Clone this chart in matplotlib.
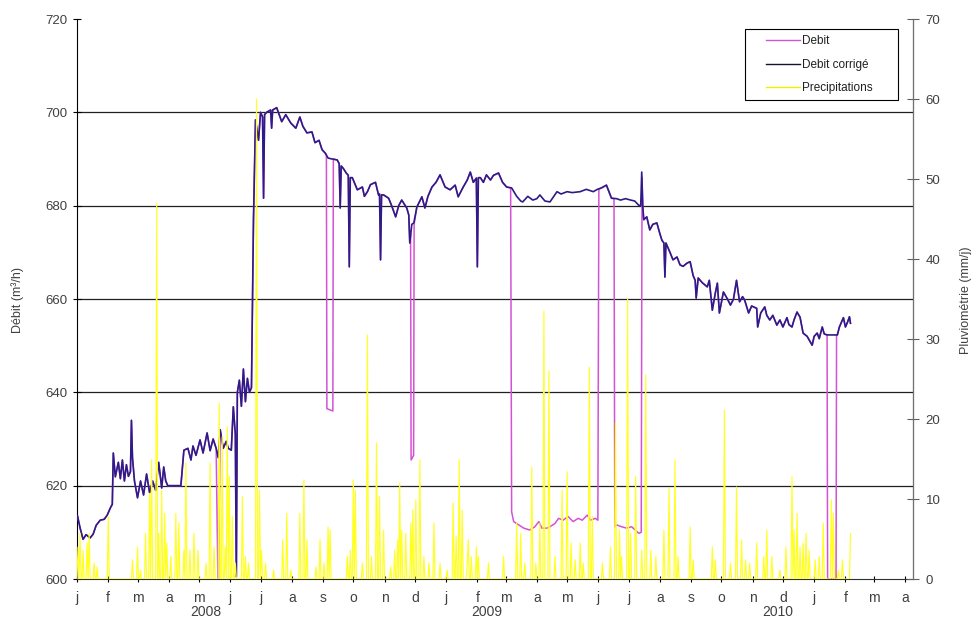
import numpy as np
import matplotlib
matplotlib.use('Agg')
import matplotlib.pyplot as plt
import matplotlib.dates as mdates
from matplotlib.ticker import FuncFormatter, MultipleLocator
from matplotlib.lines import Line2D
from matplotlib.legend_handler import HandlerLine2D
import datetime as dt

plt.rcParams['font.family'] = ['Liberation Sans', 'DejaVu Sans']

# ---------------- data (day offsets from 2008-01-01) ----------------
corr_day = [0.5, 3, 6, 9, 13, 16, 19, 23, 27, 30, 33, 35, 36, 38, 41, 43, 45, 47, 49, 51,
            53, 54, 55, 57, 60, 63, 66, 69, 72, 75, 78, 81, 84, 86, 88, 90, 103, 106, 110, 113,
            115, 118, 122, 125, 129, 132, 135, 138, 140, 142, 145, 148, 150, 153, 155, 157, 158, 159, 161, 163,
            165, 167, 169, 171, 173, 175, 177, 180, 182, 184, 185, 186, 188, 192, 193, 194, 198, 203, 207, 212,
            217, 221, 224, 228, 233, 236, 240, 243, 246, 249, 253, 258, 260, 261, 262, 264, 267, 269, 270, 271,
            273, 278, 283, 285, 288, 291, 296, 299, 300, 301, 302, 304, 309, 312, 316, 319, 322, 327, 329, 330,
            332, 334, 337, 342, 345, 348, 352, 356, 360, 365, 370, 375, 378, 383, 387, 390, 393, 396, 397, 398,
            400, 403, 406, 410, 413, 418, 422, 426, 431, 436, 440, 442, 447, 452, 456, 459, 464, 469, 476, 480,
            486, 491, 499, 505, 512, 516, 520, 525, 530, 535, 539, 544, 549, 553, 557, 559, 560, 561, 562, 565,
            568, 571, 575, 578, 580, 582, 583, 584, 588, 591, 595, 598, 601, 605, 608, 611, 613, 614, 616, 620,
            625, 627, 630, 633, 635, 637, 641, 645, 648, 651, 654, 657, 660, 662, 666, 669, 674, 675, 678, 682,
            684, 687, 690, 694, 697, 700, 704, 706, 709, 711, 714, 717, 720, 724, 729, 731, 734, 736, 739, 741,
            744, 754, 756, 760, 762, 764, 766, 767]
corr_val = [613.5, 611, 608.5, 609.5, 608.8, 609.6, 611.5, 612.6, 612.8, 613.7, 615.2, 616, 627, 621.9, 625, 621.5, 625.5, 621, 624.5, 622,
            623, 634, 626, 621, 617.4, 621, 618, 622.5, 618.5, 621, 619, 625, 619.5, 624, 621, 620, 620, 627.6, 628, 625.5,
            628.5, 626.5, 629.8, 627, 631.3, 627.5, 630, 628, 626, 632, 628, 629.5, 628, 627.6, 636.9, 631, 600.5, 640, 642.6, 637,
            645, 638, 643, 640, 641, 677, 698.4, 694, 700, 699, 681.6, 699.5, 700, 700.5, 696.6, 700.5, 701, 698, 699.5, 697.7,
            696.6, 699, 697, 695.6, 695.8, 693.5, 694, 692, 691.3, 690.2, 690, 689.8, 689, 679.5, 688.5, 688, 687, 686.5, 666.9, 686,
            686, 683.4, 684, 682, 683, 684.5, 685, 682.3, 682.5, 668.4, 682.3, 682.3, 681.6, 680, 677.6, 680, 681.2, 679.5, 678, 672,
            676, 676.3, 679.7, 681.9, 679.5, 682, 684, 685, 686.6, 684, 683.4, 684.4, 681.9, 684, 685.5, 687.2, 685, 685.9, 666.9, 686,
            686, 685, 686.6, 685.5, 686.5, 687, 685, 684, 683.8, 682, 681, 680.8, 682, 681.2, 681.5, 682.3, 681, 680.8, 683, 682.5,
            683, 682.8, 683, 683.5, 683, 683.5, 683.8, 684.4, 681.6, 681.5, 681.2, 681.5, 681.2, 681, 680.1, 680, 687.2, 680, 677, 677.6,
            674.8, 676, 676.3, 674, 672.6, 672, 664.7, 672, 670, 668.4, 669, 667.3, 667, 667.7, 668, 665, 664, 660.2, 664.5, 663.5,
            662.6, 664, 657.6, 661.3, 663.4, 657, 661.5, 660, 658.7, 660, 664, 659.4, 660.5, 659.8, 657, 658.5, 658, 654, 657, 658.3,
            656.5, 655.5, 656.5, 654.4, 655.5, 654, 656, 654.5, 654, 655.5, 657.2, 656.1, 652.7, 652, 650.1, 652, 652.7, 651.5, 654, 652.5,
            652.3, 652.3, 654, 656, 654, 655, 656.2, 654.8]

# raw "Debit" differs from the corrected series only inside these windows
debit_windows = [(139.6, 140.6), (247.0, 254.5), (330.5, 334.6), (429.0, 518.0), (532.0, 560.5), (743.5, 753.5)]
debit_day = [139.7, 140.3,
             247.3, 247.8, 253.7, 254.2,
             330.8, 331.3, 333.8, 334.3,
             430, 431, 433, 438, 443, 449, 454, 458, 461, 466, 469, 474, 477.5, 482, 487, 492, 497, 501, 506, 509, 514, 516.5, 517.5,
             532.5, 533.3, 535, 540, 545, 550, 553.5, 557, 559.5, 560.3,
             743.8, 744.3, 752.7, 753.2]
debit_val = [600, 600,
             691, 636.5, 636, 690,
             674, 625.5, 626.5, 676,
             683.8, 614.4, 612.3, 611.6, 610.9, 610.5, 611.2, 612.3, 610.9, 610.9, 611.2, 611.9, 613, 612.6, 613.4, 612.3, 613, 612.6, 613.7, 612.6, 613, 612.6, 683.5,
             681.5, 611.2, 611.6, 611.2, 610.9, 611.2, 610.5, 609.8, 610, 686,
             652.3, 600, 600, 652.3]

prec_day = [1, 3, 6, 10, 12, 17, 20, 31, 55, 60, 63, 68, 72, 74, 79, 81, 84, 87, 89, 93,
            98, 101, 106, 108, 112, 116, 120, 128, 132, 136, 141, 144, 147, 149, 151, 154, 157, 164, 167, 170,
            178, 181, 183, 187, 195, 204, 208, 212, 221, 225, 228, 237, 241, 245, 249, 251, 268, 271, 274, 276,
            283, 288, 292, 297, 300, 304, 311, 315, 318, 320, 322, 326, 331, 333, 336, 340, 344, 349, 354, 360,
            367, 373, 376, 379, 382, 387, 388, 391, 396, 398, 408, 423, 436, 440, 444, 451, 455, 459, 463, 468,
            474, 481, 486, 490, 494, 499, 502, 508, 511, 521, 529, 534, 538, 540, 546, 549, 554, 560, 564, 569,
            574, 582, 587, 593, 596, 608, 611, 630, 633, 642, 648, 654, 659, 663, 667, 674, 681, 684, 689, 697,
            703, 709, 711, 714, 717, 720, 723, 726, 732, 736, 740, 748, 750, 755, 759, 767]
prec_val = [4, 5.7, 3.6, 4.5, 5.7, 2, 1.5, 7.8, 2.4, 4, 1.1, 5.7, 10.7, 14.9, 47, 5.7, 11.1, 8.2, 4.5, 2.8,
            8.2, 7, 3.6, 14.5, 3.6, 5.7, 3.6, 2, 14.5, 4, 22, 17.8, 4, 19, 12.8, 7.8, 2, 10.3, 2.8, 2,
            60, 11.1, 3.6, 2, 1.1, 4.9, 8.2, 1.1, 8.2, 12.4, 4.9, 1.5, 4.9, 2, 6.5, 6.1, 2.8, 3.6, 12.4, 11.1,
            2, 30.5, 2.8, 17, 10.3, 6.1, 1.5, 3.6, 4.9, 12, 6.1, 5.7, 7, 8.6, 9.9, 14.9, 2.8, 2, 7, 2,
            1.1, 9.5, 5.3, 14.9, 8.6, 2, 4.9, 2.8, 4, 2.8, 2, 2.8, 7, 5.7, 2, 14, 2, 7, 33.5, 26,
            2.8, 11.1, 13.4, 4.5, 2.4, 4.5, 2, 26.5, 7.8, 2, 4, 19.5, 6.1, 2.8, 35, 5.7, 12.8, 3.6, 25.5, 3.6,
            2.8, 6.1, 11.3, 14.9, 2.8, 6.5, 2.4, 4, 2.4, 21.1, 2, 11.5, 4.9, 2.4, 2, 4.5, 2.8, 6.1, 2.8, 1.1,
            4, 12.8, 6.1, 8.2, 4, 4.5, 5.7, 3.6, 2.4, 2.8, 7, 9.9, 8.2, 1.1, 2.4, 5.7]
prec_last_day = 767

month_letters = ['j', 'f', 'm', 'a', 'm', 'j', 'j', 'a', 's', 'o', 'n', 'd']
years = ['2008', '2009', '2010']
legend_labels = ['Debit', 'Debit corrigé', 'Precipitations']

# ---------------- build series ----------------
base = mdates.date2num(dt.datetime(2008, 1, 1))
cd = np.array(corr_day, float)
cv = np.array(corr_val, float)
mask = np.ones(len(cd), bool)
for s, e in debit_windows:
    mask &= ~((cd >= s) & (cd <= e))
dd = np.concatenate([cd[mask], np.array(debit_day, float)])
dv = np.concatenate([cv[mask], np.array(debit_val, float)])
order = np.argsort(dd, kind='stable')
dd, dv = dd[order], dv[order]

pdays = np.arange(0, prec_last_day + 1)
pvals = np.zeros(len(pdays))
pvals[np.array(prec_day)] = prec_val

# ---------------- figure ----------------
fig = plt.figure(figsize=(9.74, 6.19), dpi=100)
L, R, B, T = 77 / 974, 913 / 974, 1 - 579 / 619, 1 - 19 / 619
ax = fig.add_axes([L, B, R - L, T - B])
ax2 = ax.twinx()

c_debit = '#D452D4'
c_corr = '#2E1C86'
c_prec = '#FFFF22'

ax.plot(base + dd, dv, color=c_debit, lw=1.1, zorder=3)
ax.plot(base + cd, cv, color=c_corr, lw=1.2, zorder=4)
ax2.plot(base + pdays, pvals, color=c_prec, lw=0.85, zorder=3)

ax.set_xlim(base, base + 829)
ax.set_ylim(600, 720)
ax2.set_ylim(0, 70)
ax.yaxis.set_major_locator(MultipleLocator(20))
ax2.yaxis.set_major_locator(MultipleLocator(10))

for v in range(620, 720, 20):
    ax.axhline(v, color='#202020', lw=0.9, zorder=1)

ax.xaxis.set_major_locator(mdates.MonthLocator())
ax.xaxis.set_major_formatter(FuncFormatter(lambda x, pos: month_letters[mdates.num2date(x).month - 1]))

tick_col = '#404040'
ax.tick_params(axis='x', direction='inout', length=5, width=0.8, pad=6, labelsize=10, labelcolor=tick_col)
ax.tick_params(axis='y', direction='inout', length=6, width=0.8, pad=4, labelsize=9.5, labelcolor=tick_col)
ax2.tick_params(axis='y', direction='inout', length=8, width=0.8, pad=5, labelsize=9.5, colors='#606060')
ax2.tick_params(axis='y', labelcolor=tick_col)

for a in (ax, ax2):
    a.spines['top'].set_visible(False)
    a.set_facecolor('none')
ax.spines['left'].set_color('#000000')
ax.spines['bottom'].set_color('#303030')
ax2.spines['right'].set_color('#707070')
ax2.spines['left'].set_visible(False)
ax2.spines['bottom'].set_visible(False)

for txt, xp in zip(years, [206, 487, 778]):
    fig.text(xp / 974, 1 - 612 / 619, txt, ha='center', va='center', fontsize=10, color=tick_col)

fig.text(18 / 974, 1 - 300 / 619, 'Débit (m³/h)', rotation=90, ha='center', va='center', fontsize=9, color=tick_col)
fig.text(966 / 974, 1 - 300 / 619, 'Pluviométrie (mm/j)', rotation=90, ha='center', va='center', fontsize=9, color=tick_col)

h = [Line2D([], [], color=c_debit, lw=1.0), Line2D([], [], color='#1a1030', lw=1.0), Line2D([], [], color='#F0F000', lw=1.0)]
leg = ax2.legend(h, legend_labels,
                 loc='upper left', bbox_to_anchor=(745 / 974, 1 - 97 / 619, 153 / 974, 68 / 619),
                 bbox_transform=fig.transFigure, mode='expand', borderaxespad=0,
                 fontsize=8.5, handlelength=4.1, handletextpad=0.15, labelspacing=0.95,
                 borderpad=0.55, fancybox=False, framealpha=1, edgecolor='#000000',
                 handler_map={Line2D: HandlerLine2D(xpad=1.2)})
leg.get_frame().set_linewidth(0.8)
for t in leg.get_texts():
    t.set_color('#202020')
leg.set_zorder(10)

fig.savefig('out.png', dpi=100)
